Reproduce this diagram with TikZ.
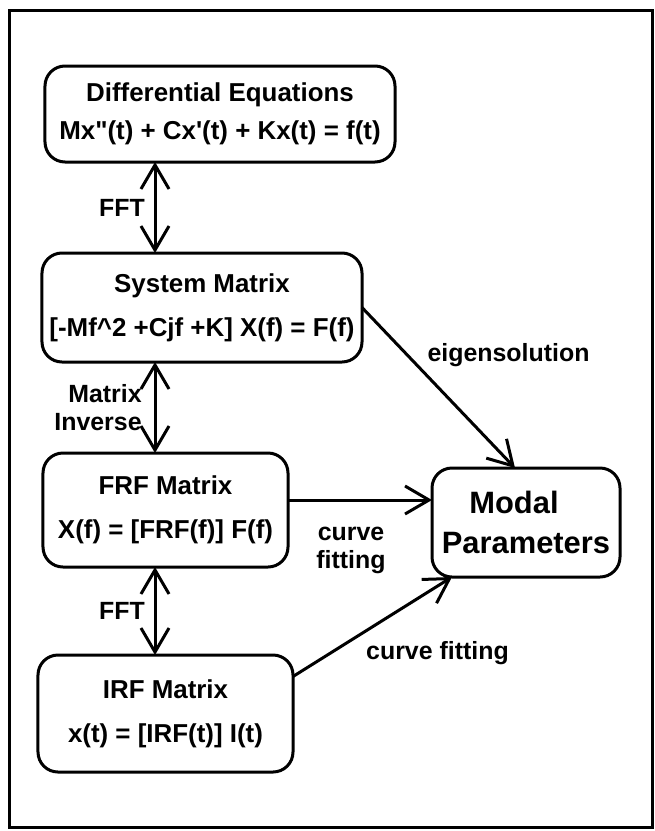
\documentclass[tikz,border=0pt]{standalone}
\usepackage{fontspec}
\setmainfont{Liberation Sans}[Ligatures=TeXOff]
\usetikzlibrary{arrows.meta, positioning}
\tikzset{
    barb/.tip={Straight Barb[length=24bp, width=28bp]},
    box/.style={draw, line width=3bp, rounded corners=20bp, align=center, inner sep=0pt, outer sep=0pt, font=\fontsize{26}{44}\selectfont\bfseries},
    lbl/.style={align=center, inner sep=0pt, font=\fontsize{25}{28}\selectfont\bfseries},
    arrow/.style={-barb, line width=3bp},
    dblarrow/.style={barb-barb, line width=3bp}
}

\begin{document}
\begin{tikzpicture}[x=1bp, y=-1bp]
        \useasboundingbox (0,0) rectangle (655,831);
        \draw [line width=3bp] (9,10) rectangle (652,827);
        \coordinate (axis) at (155,0);
        \node [box, minimum width=350bp, minimum height=96bp, font=\fontsize{26}{38}\selectfont\bfseries] (diff) at (220,114) {Differential Equations\\Mx"(t) + Cx'(t) + Kx(t) = f(t)};
        \node [box, below=91bp of diff, xshift=-18bp, minimum width=320bp, minimum height=109bp] (sys) {System Matrix\\{}[-Mf\textasciicircum2 +Cjf +K] X(f) = F(f)};
        \node [box, below=91bp of sys, xshift=-36.5bp, minimum width=245bp, minimum height=114bp] (frf) {FRF Matrix\\X(f) = [FRF(f)] F(f)};
        \node [box, below=88bp of frf, minimum width=255bp, minimum height=117bp] (irf) {IRF Matrix\\x(t) = [IRF(t)] I(t)};
        \node [box, right=144bp of frf, yshift=-12.5bp, minimum width=188bp, minimum height=109bp, font=\fontsize{31}{40}\selectfont\bfseries] (modal) {Modal\hspace*{24bp}\\Parameters};
        \draw [dblarrow] (diff.south -| axis) -- node [lbl, midway, xshift=-33bp] {FFT} (sys.north -| axis);
        \draw [dblarrow] (sys.south -| axis) -- node [lbl, midway, align=right, xshift=-57bp] {Matrix\\Inverse} (frf.north -| axis);
        \draw [dblarrow] (frf.south -| axis) -- node [lbl, midway, xshift=-33bp] {FFT} (irf.north -| axis);
        \draw [arrow] (sys.east) -- node [lbl, midway, xshift=70bp, yshift=33bp] {eigensolution} ([xshift=-11bp]modal.north);
        \draw [arrow] ([yshift=10bp]frf.east) -- node [lbl, midway, xshift=-9bp, yshift=-50bp] {curve\\fitting} ([yshift=10bp]frf.east -| modal.west);
        \draw [arrow] ([yshift=37bp]irf.east) -- node [lbl, midway, xshift=65bp, yshift=-26bp] {curve fitting} ([xshift=20bp]modal.south west);
    \end{tikzpicture}
\end{document}
